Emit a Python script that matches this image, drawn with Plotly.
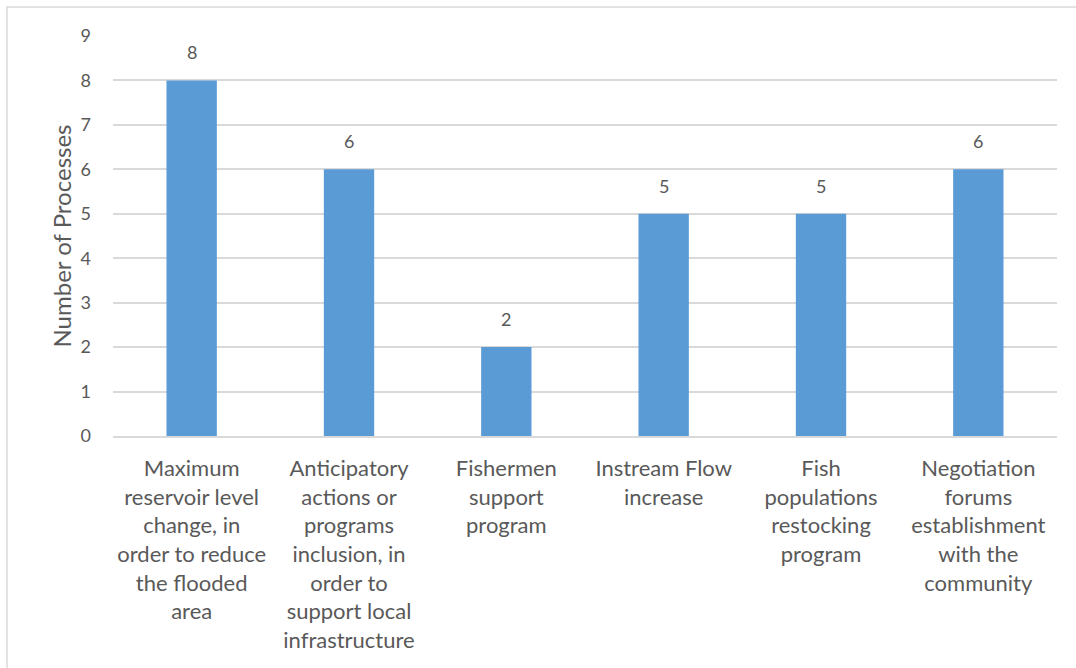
import plotly.graph_objects as go

categories = [
    "Maximum<br>reservoir level<br>change, in<br>order to reduce<br>the flooded<br>area",
    "Anticipatory<br>actions or<br>programs<br>inclusion, in<br>order to<br>support local<br>infrastructure",
    "Fishermen<br>support<br>program",
    "Instream Flow<br>increase",
    "Fish<br>populations<br>restocking<br>program",
    "Negotiation<br>forums<br>establishment<br>with the<br>community",
]
processes = [8, 6, 2, 5, 5, 6]
y_ticks = [0, 1, 2, 3, 4, 5, 6, 7, 8, 9]

TEXT = "#595959"
GRID = "#D9D9D9"
BAR = "#5B9BD5"
FONT = "Lato"

fig = go.Figure(
    go.Bar(
        x=categories,
        y=processes,
        marker=dict(color=BAR, line=dict(width=0)),
        hoverinfo="x+y",
    )
)

# value labels above each bar
for cat, val in zip(categories, processes):
    fig.add_annotation(
        x=cat, y=val, text=str(val), showarrow=False,
        yanchor="bottom", yshift=15,
        font=dict(family=FONT, size=18, color=TEXT),
    )

# light outer frame of the chart area
fig.add_shape(
    type="rect", xref="paper", yref="paper",
    x0=-0.1123, x1=1.2, y0=-0.8, y1=1.0725,
    line=dict(color=GRID, width=1.5), fillcolor="rgba(0,0,0,0)",
    layer="below",
)

fig.update_layout(
    width=1076, height=668,
    margin=dict(l=113, r=19, t=36, b=232),
    paper_bgcolor="white", plot_bgcolor="white",
    bargap=0.68,
    showlegend=False,
    font=dict(family=FONT, size=18, color=TEXT),
    xaxis=dict(
        showgrid=False, showline=True, linecolor=GRID, linewidth=1.5,
        ticks="", tickfont=dict(family=FONT, size=22, color=TEXT),
        ticklabelstandoff=12, tickangle=0,
    ),
    yaxis=dict(
        range=[0, 9], tickvals=y_ticks, showgrid=True, gridcolor=GRID,
        gridwidth=1.5, zeroline=False, showline=False, ticks="",
        tickfont=dict(family=FONT, size=18, color=TEXT),
        ticklabelstandoff=21,
        title=dict(text="Number of Processes", standoff=2,
                   font=dict(family=FONT, size=24, color=TEXT)),
    ),
)

fig.write_html("out.html")
